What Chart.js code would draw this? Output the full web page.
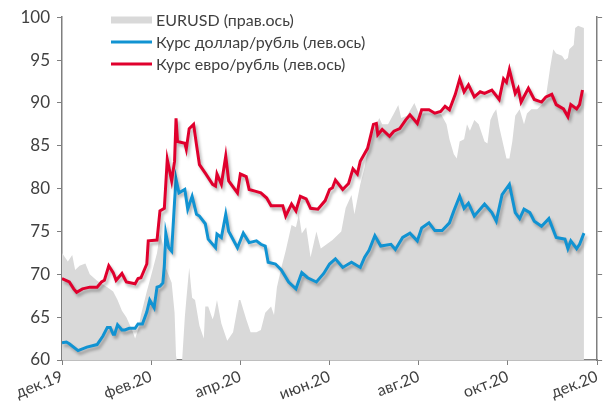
<!DOCTYPE html>
<html lang="ru">
<head>
  <meta charset="UTF-8" />
  <title>Курс доллара и евро</title>
  <script src="https://cdn.jsdelivr.net/npm/chart.js"></script>
  <style>
    body { margin: 0; background: #fff; }
    .wrap { width: 606px; height: 405px; position: relative; }
  </style>
</head>
<body>
<div class="wrap"><canvas id="fx"></canvas></div>
<script>
  // x = days since 1 Dec 2019
  const monthLabels = ['дек.19', 'фев.20', 'апр.20', 'июн.20', 'авг.20', 'окт.20', 'дек.20'];
  const monthTicks = [0, 61, 122, 183, 244, 305, 366];
  const seriesNames = ['EURUSD (прав.ось)', 'Курс доллар/рубль (лев.ось)', 'Курс евро/рубль (лев.ось)'];

  const usdDays = [0, 3, 5, 11, 17, 24, 26, 28, 31, 33, 35, 36, 38, 41, 43, 46, 50, 52, 55, 58, 60, 63, 65, 67, 69, 70, 71, 73, 75, 77, 78, 80, 84, 86, 89, 92, 94, 98, 100, 105, 106, 109, 112, 114, 115, 120, 124, 128, 133, 136, 139, 141, 146, 150, 155, 160, 164, 168, 174, 179, 183, 187, 192, 198, 204, 207, 210, 214, 218, 225, 228, 233, 238, 243, 246, 251, 255, 260, 265, 268, 272, 275, 278, 282, 289, 294, 297, 301, 306, 310, 313, 316, 320, 323, 328, 333, 338, 344, 346, 348, 352, 354, 357];
  const usdRub = [62.0, 62.1, 61.9, 61.1, 61.5, 61.8, 62.3, 62.8, 63.8, 63.8, 63.0, 63.0, 64.1, 63.5, 63.5, 63.7, 63.7, 64.2, 64.2, 65.6, 67.0, 66.1, 68.5, 68.6, 69.0, 71.0, 74.8, 73.1, 72.7, 78.5, 81.1, 79.5, 79.9, 77.6, 79.1, 77.0, 76.8, 75.9, 74.1, 73.1, 74.7, 74.3, 77.0, 75.0, 74.7, 73.1, 74.8, 73.7, 73.9, 73.5, 73.3, 71.4, 71.2, 70.5, 69.1, 68.3, 70.2, 69.6, 69.1, 70.1, 71.2, 71.8, 70.8, 71.4, 70.8, 72.0, 72.8, 74.5, 73.3, 73.5, 72.9, 74.3, 74.8, 73.9, 75.4, 76.0, 75.1, 75.1, 76.0, 77.4, 79.1, 77.7, 78.3, 76.8, 78.2, 77.2, 76.2, 79.3, 80.5, 77.2, 76.5, 77.6, 77.2, 76.2, 75.6, 76.5, 74.3, 74.1, 73.0, 73.9, 73.0, 73.5, 74.8];

  const eurDays = [0, 5, 8, 10, 14, 19, 24, 27, 29, 32, 35, 37, 41, 44, 50, 52, 54, 58, 59, 65, 67, 70, 72, 75, 77, 78, 79, 84, 85, 87, 90, 92, 94, 98, 103, 105, 106, 109, 112, 114, 120, 122, 126, 128, 132, 136, 140, 143, 147, 151, 153, 157, 160, 163, 167, 170, 175, 180, 183, 185, 187, 192, 196, 199, 202, 204, 209, 213, 215, 216, 219, 224, 227, 231, 235, 238, 243, 246, 251, 255, 259, 262, 265, 269, 272, 275, 278, 282, 286, 289, 294, 299, 302, 304, 306, 310, 312, 314, 319, 323, 328, 331, 335, 338, 343, 346, 348, 352, 354, 356];
  const eurRub = [69.5, 69.1, 68.3, 67.9, 68.3, 68.5, 68.5, 69.1, 69.3, 71.0, 70.2, 69.3, 70.1, 69.1, 68.9, 69.5, 69.6, 71.2, 73.9, 74.0, 77.4, 77.7, 83.4, 80.9, 83.2, 88.2, 85.5, 85.3, 84.6, 87.0, 87.5, 85.1, 82.8, 81.8, 80.5, 80.3, 81.7, 80.5, 83.8, 80.9, 79.5, 81.7, 81.4, 79.9, 79.7, 79.5, 78.9, 78.0, 78.0, 78.0, 76.8, 78.2, 77.4, 79.1, 78.8, 77.7, 77.6, 78.6, 79.9, 80.1, 81.0, 79.9, 80.6, 82.3, 81.7, 83.2, 84.7, 87.5, 87.6, 86.3, 86.9, 86.1, 86.7, 87.0, 88.0, 88.6, 87.6, 89.2, 89.2, 88.8, 89.0, 89.6, 89.2, 91.0, 92.8, 91.3, 92.1, 90.7, 91.3, 91.1, 91.5, 90.4, 92.8, 92.4, 93.9, 91.1, 91.7, 90.1, 91.7, 90.4, 90.1, 90.7, 91.0, 89.8, 89.3, 88.4, 89.8, 89.3, 89.8, 91.5];

  const eurusdDays = [0, 4, 7, 9, 12, 16, 19, 24, 31, 35, 38, 41, 44, 48, 50, 52, 54, 58, 60, 65, 67, 69, 71, 75, 77, 78, 79, 82, 84, 85, 87, 89, 91, 94, 97, 98, 100, 103, 104, 106, 109, 113, 117, 121, 122, 126, 129, 133, 136, 139, 143, 145, 147, 150, 153, 157, 160, 162, 164, 167, 170, 174, 177, 181, 185, 191, 194, 198, 200, 204, 207, 210, 214, 217, 219, 223, 227, 230, 232, 236, 241, 244, 250, 255, 259, 263, 265, 268, 270, 272, 275, 277, 279, 282, 285, 289, 291, 293, 295, 297, 299, 302, 304, 306, 308, 310, 313, 316, 318, 321, 325, 328, 331, 334, 336, 338, 342, 344, 346, 347, 350, 351, 353, 357];
  const eurusd = [1.110, 1.106, 1.109, 1.102, 1.104, 1.105, 1.100, 1.097, 1.094, 1.092, 1.088, 1.083, 1.080, 1.074, 1.070, 1.074, 1.081, 1.092, 1.097, 1.110, 1.119, 1.114, 1.103, 1.096, 1.082, 1.062, 1.058, 1.058, 1.080, 1.088, 1.103, 1.089, 1.088, 1.076, 1.070, 1.085, 1.085, 1.079, 1.081, 1.088, 1.077, 1.069, 1.073, 1.088, 1.088, 1.079, 1.073, 1.073, 1.074, 1.082, 1.085, 1.081, 1.094, 1.103, 1.111, 1.123, 1.122, 1.128, 1.119, 1.122, 1.108, 1.120, 1.112, 1.114, 1.116, 1.120, 1.131, 1.137, 1.128, 1.142, 1.150, 1.162, 1.168, 1.173, 1.170, 1.170, 1.175, 1.179, 1.173, 1.174, 1.180, 1.175, 1.175, 1.175, 1.175, 1.170, 1.163, 1.156, 1.154, 1.162, 1.163, 1.170, 1.167, 1.172, 1.170, 1.162, 1.161, 1.172, 1.175, 1.177, 1.169, 1.160, 1.154, 1.154, 1.162, 1.174, 1.177, 1.170, 1.175, 1.177, 1.177, 1.179, 1.183, 1.197, 1.205, 1.203, 1.202, 1.200, 1.201, 1.205, 1.207, 1.215, 1.216, 1.215];

  const toPoints = (days, vals) => days.map((d, i) => ({ x: d, y: vals[i] }));

  const FONT = 'Lato, "Liberation Sans", sans-serif';
  const TEXT = '#404040';
  const AXIS = '#7f7f7f';

  // soft shadow under the two rouble lines
  const lineShadow = {
    id: 'lineShadow',
    beforeDatasetDraw(chart, args) {
      const ctx = chart.ctx;
      ctx.save();
      if (args.index > 0) {
        ctx.shadowColor = 'rgba(0,0,0,0.28)';
        ctx.shadowBlur = 3;
        ctx.shadowOffsetX = 2;
        ctx.shadowOffsetY = 3;
      }
    },
    afterDatasetDraw(chart) {
      chart.ctx.restore();
    }
  };

  // legend sits inside the plot, top left
  const insideLegend = {
    id: 'insideLegend',
    afterDraw(chart) {
      const ctx = chart.ctx;
      const x0 = 111, y0 = 20, gap = 22;
      ctx.save();
      ctx.font = '16px ' + FONT;
      ctx.textBaseline = 'middle';
      chart.data.datasets.forEach((ds, i) => {
        const y = y0 + i * gap;
        if (i === 0) {
          ctx.fillStyle = ds.backgroundColor;
          ctx.fillRect(x0, y - 3.5, 41, 7);
        } else {
          ctx.strokeStyle = ds.borderColor;
          ctx.lineWidth = 3;
          ctx.beginPath();
          ctx.moveTo(x0, y);
          ctx.lineTo(x0 + 41, y);
          ctx.stroke();
        }
        ctx.fillStyle = TEXT;
        ctx.fillText(ds.label, x0 + 45, y + 1);
      });
      ctx.restore();
    }
  };

  new Chart(document.getElementById('fx'), {
    type: 'line',
    data: {
      datasets: [
        {
          label: seriesNames[0],
          data: toPoints(eurusdDays, eurusd),
          yAxisID: 'y2',
          backgroundColor: '#d9d9d9',
          borderWidth: 0,
          pointRadius: 0,
          fill: 'start',
          order: 3
        },
        {
          label: seriesNames[1],
          data: toPoints(usdDays, usdRub),
          yAxisID: 'y',
          borderColor: '#1193d2',
          borderWidth: 3,
          pointRadius: 0,
          fill: false,
          order: 2
        },
        {
          label: seriesNames[2],
          data: toPoints(eurDays, eurRub),
          yAxisID: 'y',
          borderColor: '#e0002d',
          borderWidth: 3,
          pointRadius: 0,
          fill: false,
          order: 1
        }
      ]
    },
    options: {
      responsive: true,
      maintainAspectRatio: false,
      animation: false,
      layout: { padding: { top: 15, left: 0, right: 0, bottom: 0 } },
      plugins: {
        legend: { display: false },
        tooltip: { enabled: false }
      },
      scales: {
        x: {
          type: 'linear',
          min: 0,
          max: 366,
          afterBuildTicks: s => { s.ticks = monthTicks.map(v => ({ value: v })); },
          afterFit: s => { s.height = 45; },
          grid: { drawOnChartArea: false, tickLength: 5, color: AXIS },
          border: { color: AXIS, width: 1.5 },
          ticks: {
            autoSkip: false,
            minRotation: 21,
            maxRotation: 21,
            padding: 2,
            color: TEXT,
            font: { family: FONT, size: 16 },
            callback: (v, i) => monthLabels[i]
          }
        },
        y: {
          position: 'left',
          min: 60,
          max: 100,
          afterFit: s => { s.width = 62; },
          grid: { drawOnChartArea: false, tickLength: 5, color: AXIS },
          border: { color: AXIS, width: 1.5 },
          ticks: {
            stepSize: 5,
            padding: 7,
            color: TEXT,
            font: { family: FONT, size: 17 }
          }
        },
        y2: {
          position: 'right',
          min: 1.06,
          max: 1.22,
          afterFit: s => { s.width = 5; },
          grid: { drawOnChartArea: false, tickLength: 5, color: AXIS },
          border: { color: AXIS, width: 1.5 },
          ticks: {
            stepSize: 0.02,
            callback: () => ''
          }
        }
      }
    },
    plugins: [lineShadow, insideLegend]
  });
</script>
</body>
</html>
